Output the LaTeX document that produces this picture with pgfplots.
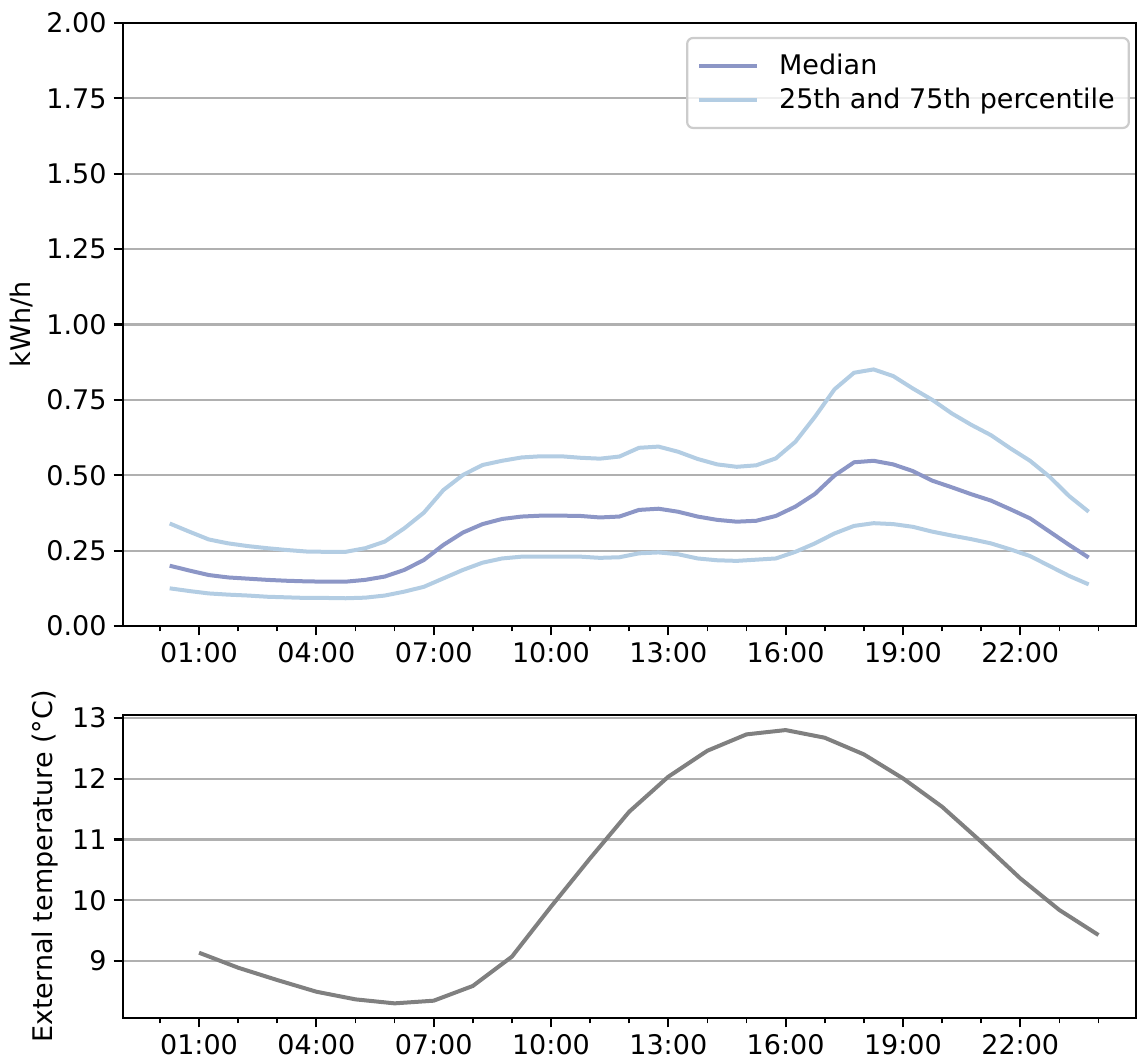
\documentclass[border=0pt]{standalone}
\usepackage{fontspec}
\setmainfont{DejaVu Sans}
\usepackage{pgfplots}
\usepackage{pgfplotstable}
\pgfplotsset{compat=1.18}
\definecolor{medc}{HTML}{8C96C6}
\definecolor{pctc}{HTML}{B3CDE3}
\definecolor{tempc}{HTML}{808080}
\definecolor{gridc}{HTML}{B0B0B0}
\definecolor{legc}{HTML}{CCCCCC}

\pgfplotstableread{
h med p25 p75
0.25 0.200 0.125 0.340
0.75 0.184 0.116 0.313
1.25 0.169 0.108 0.287
1.75 0.161 0.104 0.274
2.25 0.157 0.101 0.265
2.75 0.153 0.097 0.258
3.25 0.150 0.095 0.252
3.75 0.148 0.093 0.247
4.25 0.147 0.093 0.246
4.75 0.147 0.092 0.246
5.25 0.153 0.094 0.258
5.75 0.164 0.101 0.280
6.25 0.186 0.114 0.324
6.75 0.219 0.130 0.376
7.25 0.269 0.158 0.451
7.75 0.310 0.186 0.501
8.25 0.338 0.210 0.534
8.75 0.355 0.224 0.548
9.25 0.363 0.230 0.559
9.75 0.366 0.230 0.563
10.25 0.366 0.230 0.563
10.75 0.365 0.230 0.558
11.25 0.360 0.226 0.555
11.75 0.363 0.228 0.562
12.25 0.385 0.241 0.591
12.75 0.389 0.244 0.595
13.25 0.379 0.238 0.578
13.75 0.363 0.224 0.554
14.25 0.352 0.218 0.536
14.75 0.346 0.216 0.528
15.25 0.349 0.220 0.533
15.75 0.365 0.224 0.556
16.25 0.396 0.246 0.611
16.75 0.438 0.274 0.694
17.25 0.499 0.307 0.785
17.75 0.543 0.332 0.840
18.25 0.548 0.341 0.851
18.75 0.536 0.338 0.829
19.25 0.514 0.329 0.788
19.75 0.482 0.313 0.750
20.25 0.460 0.300 0.705
20.75 0.437 0.288 0.667
21.25 0.416 0.274 0.633
21.75 0.387 0.254 0.589
22.25 0.357 0.232 0.548
22.75 0.313 0.199 0.495
23.25 0.269 0.166 0.431
23.75 0.227 0.138 0.379
}\loadtable

\pgfplotstableread{
h temp
1 9.137
2 8.890
3 8.687
4 8.495
5 8.369
6 8.303
7 8.347
8 8.589
9 9.071
10 9.894
11 10.690
12 11.458
13 12.034
14 12.462
15 12.731
16 12.802
17 12.676
18 12.402
19 12.007
20 11.540
21 10.964
22 10.361
23 9.840
24 9.428
}\temptable

\pgfplotsset{
  base/.style={
    scale only axis, width=506.5pt,
    xmin=-0.944, xmax=24.96,
    xtick={1,4,7,10,13,16,19,22},
    xticklabels={01:00,04:00,07:00,10:00,13:00,16:00,19:00,22:00},
    minor xtick={0,1,...,25},
    tick align=outside, tick pos=left,
    major tick length=4.7pt, minor tick length=2.7pt,
    every tick/.style={black, line width=1.1pt},
    minor tick style={line width=0.8pt},
    ymajorgrids, grid style={gridc, line width=1.1pt},
    axis line style={line width=1.1pt},
    tick label style={font=\fontsize{13.5}{16}\selectfont},
    label style={font=\fontsize{13.5}{16}\selectfont},
    /pgf/number format/assume math mode=true,
  }
}

\begin{document}
\begin{tikzpicture}
\begin{axis}[base, at={(0,0)}, anchor=south west, height=301.5pt,
  ymin=0, ymax=2,
  ytick={0,0.25,0.5,0.75,1,1.25,1.5,1.75,2},
  yticklabel style={/pgf/number format/fixed, /pgf/number format/fixed zerofill, /pgf/number format/precision=2},
  ylabel={kWh/h},
  legend cell align=left,
  legend image code/.code={\draw[#1] (0pt,0pt) -- (29pt,0pt);},
  legend style={at={(0.994,0.977)}, anchor=north east, draw=legc, line width=1.1pt,
    rounded corners=3pt, fill=white, fill opacity=0.8, text opacity=1,
    font=\fontsize{13.5}{16}\selectfont, inner xsep=5pt, inner ysep=6pt, row sep=1.5pt,
    /tikz/every odd column/.append style={column sep=8pt}},
]
\addplot[medc, line width=2pt] table[x=h, y=med] {\loadtable};
\addlegendentry{Median}
\addplot[pctc, line width=2pt] table[x=h, y=p75] {\loadtable};
\addlegendentry{25th and 75th percentile}
\addplot[pctc, line width=2pt, forget plot] table[x=h, y=p25] {\loadtable};
\end{axis}
\begin{axis}[base, at={(0,-196pt)}, anchor=south west, height=151.5pt,
  ymin=8.062, ymax=13.05,
  ytick={9,10,11,12,13},
  ylabel={External temperature (°C)},
]
\addplot[tempc, line width=2pt] table[x=h, y=temp] {\temptable};
\end{axis}
\pgfresetboundingbox
\path[use as bounding box] (-61.5pt,-216.5pt) rectangle (508pt,313pt);
\end{tikzpicture}
\end{document}
